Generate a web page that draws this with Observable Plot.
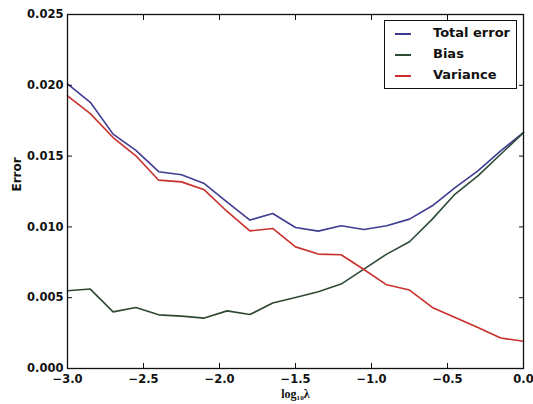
<!DOCTYPE html>
<html>
<head>
<meta charset="utf-8">
<script src="https://cdn.jsdelivr.net/npm/d3@7"></script>
<script src="https://cdn.jsdelivr.net/npm/@observablehq/plot@0.6"></script>
<style>
  body { margin: 0; background: #fff; }
  #wrap { position: relative; width: 533px; height: 404px; }
  #legend { position: absolute; left: 384px; top: 20px; width: 131px; height: 67px;
    border: 1.3px solid #111; background: #fff; font-family: "DejaVu Sans", sans-serif;
    font-weight: bold; font-size: 13px; color: #111; }
  .row { position: absolute; left: 0; height: 16px; }
  .sw { position: absolute; left: 10px; top: 7px; width: 16px; height: 2px; }
  .lb { position: absolute; left: 48px; top: -1px; white-space: nowrap; }
</style>
</head>
<body>
<div id="wrap"></div>
<script>
const lambdaLog = [-3.0, -2.85, -2.7, -2.55, -2.4, -2.25, -2.1, -1.95, -1.8, -1.65, -1.5,
  -1.35, -1.2, -1.05, -0.9, -0.75, -0.6, -0.45, -0.3, -0.15, 0.0];
const totalError = [0.0201, 0.0188, 0.01655, 0.0154, 0.0139, 0.01368, 0.01306, 0.01175, 0.01048, 0.01095, 0.00996,
  0.0097, 0.01008, 0.00982, 0.01008, 0.01055, 0.01149, 0.01278, 0.01396, 0.01537, 0.01667];
const bias = [0.00549, 0.00561, 0.0040, 0.00431, 0.00379, 0.0037, 0.00356, 0.00407, 0.00381, 0.00462, 0.00501,
  0.00542, 0.00596, 0.00702, 0.00808, 0.00895, 0.01055, 0.01232, 0.0136, 0.01513, 0.01665];
const variance = [0.01926, 0.0180, 0.01631, 0.01502, 0.0133, 0.01318, 0.01262, 0.01109, 0.00972, 0.00989, 0.00859,
  0.00808, 0.00803, 0.00699, 0.00591, 0.00554, 0.00431, 0.0036, 0.0029, 0.00215, 0.00193];
const seriesNames = ["Total error", "Bias", "Variance"];
const seriesColors = ["#3f3c92", "#2e4a34", "#c9302b"];
const xTicks = [-3.0, -2.5, -2.0, -1.5, -1.0, -0.5, 0.0];
const yTicks = [0.000, 0.005, 0.010, 0.015, 0.020, 0.025];

const seriesValues = [totalError, bias, variance];
const rows = seriesNames.flatMap((name, i) =>
  lambdaLog.map((x, j) => ({ series: name, x, y: seriesValues[i][j] })));

const fmtX = d => d3.format(".1f")(d).replace("-", "\u2212");
const fmtY = d => d3.format(".3f")(d);
const tickFont = { fontFamily: "DejaVu Sans", fontWeight: "bold", fontSize: 11.5, fill: "#111" };

const chart = Plot.plot({
  width: 533,
  height: 404,
  marginLeft: 67,
  marginRight: 10,
  marginTop: 14,
  marginBottom: 36,
  style: { background: "#fff", color: "#111", fontFamily: "DejaVu Sans", fontSize: "12px" },
  x: { domain: [-3, 0] },
  y: { domain: [0, 0.025] },
  color: { domain: seriesNames, range: seriesColors },
  marks: [
    Plot.line(rows, { x: "x", y: "y", z: "series", stroke: "series", strokeWidth: 1.6 }),
    Plot.frame({ stroke: "#111", strokeWidth: 1.3 }),
    Plot.axisX(xTicks, { anchor: "bottom", tickSize: -5, tickPadding: 11.5, tickFormat: fmtX, label: null, ...tickFont }),
    Plot.axisX(xTicks, { anchor: "top", tickSize: -5, tickFormat: () => "", label: null }),
    Plot.axisY(yTicks, { anchor: "left", tickSize: -5, tickPadding: 9, tickFormat: fmtY, label: null, ...tickFont }),
    Plot.axisY(yTicks, { anchor: "right", tickSize: -5, tickFormat: () => "", label: null }),
    Plot.text(["Error"], { frameAnchor: "left", dx: -50, rotate: -90, fontFamily: "DejaVu Sans", fontWeight: "bold", fontSize: 12, fill: "#111" }),
    Plot.text(["log\u2081\u2080\u03bb"], { frameAnchor: "bottom", dy: 29, fontFamily: "Liberation Serif", fontWeight: "bold", fontSize: 12, fill: "#111" })
  ]
});

const wrap = document.getElementById("wrap");
wrap.appendChild(chart);

const legend = document.createElement("div");
legend.id = "legend";
seriesNames.forEach((name, i) => {
  const row = document.createElement("div");
  row.className = "row";
  row.style.top = (5 + i * 21) + "px";
  const sw = document.createElement("div");
  sw.className = "sw";
  sw.style.background = seriesColors[i];
  const lb = document.createElement("div");
  lb.className = "lb";
  lb.textContent = name;
  row.appendChild(sw);
  row.appendChild(lb);
  legend.appendChild(row);
});
wrap.appendChild(legend);
</script>
</body>
</html>
